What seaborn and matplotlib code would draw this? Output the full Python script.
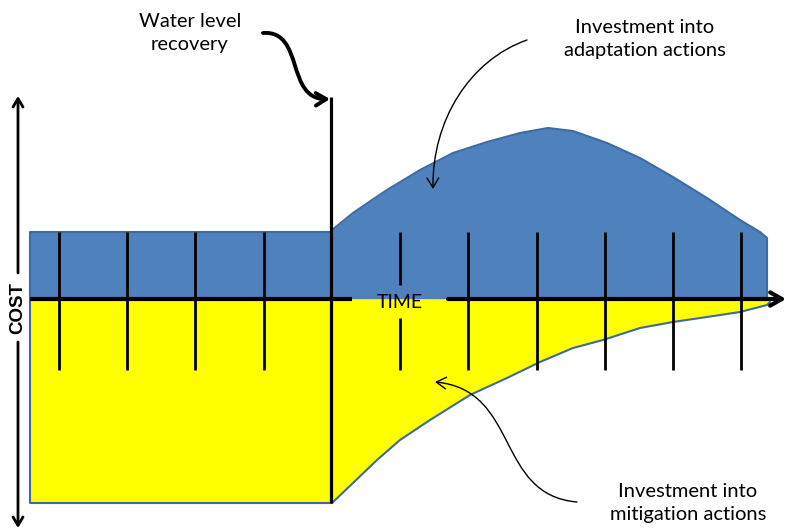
import numpy as np
import pandas as pd
import matplotlib
matplotlib.use("Agg")
import matplotlib.pyplot as plt
from matplotlib.patches import FancyArrowPatch
from matplotlib.path import Path
import seaborn as sns

# ---- data (diagram units: x = time, y = cost, drawn on a pixel-like scale) ----
baseline_y = 299                       # time axis level
start_x = 30                           # start of time
recovery_x = 331                       # water level recovery
end_x = 767                            # end of areas

pre_adapt_y = 232                      # adaptation cost level before recovery
pre_mitig_y = 503                      # mitigation cost level before recovery

adapt_x = [332, 353, 372, 387, 420, 453, 487, 520, 548, 573, 607, 640, 673, 707, 740, 760, 767]
adapt_y = [230, 213, 200, 190, 170, 153, 142, 133, 128, 131, 143, 158, 177, 198, 220, 232, 238]

mitig_x = [332, 353, 377, 400, 430, 470, 507, 540, 573, 603, 640, 673, 707, 740, 767, 770]
mitig_y = [503, 483, 460, 440, 420, 395, 378, 362, 348, 340, 328, 322, 317, 312, 305, 302]

tick_x = [59, 127, 195, 264, 400, 468, 537, 605, 673, 741]
tick_top, tick_bottom = 232, 370

labels = {
    "recovery": "Water level\nrecovery",
    "adapt": "Investment into\nadaptation actions",
    "mitig": "Investment into\nmitigation actions",
    "time": "TIME",
    "cost": "COST",
}

# ---- plotting ----
sns.set_theme(style="white")
plt.rcParams["font.family"] = ["Lato", "DejaVu Sans"]

fig = plt.figure(figsize=(7.89, 5.31), dpi=100)
ax = fig.add_axes([0, 0, 1, 1])
ax.set_xlim(0, 789)
ax.set_ylim(531, 0)
ax.axis("off")

blue = "#4f81bd"
blue_edge = "#3d6aa3"
yellow = "#ffff00"

# adaptation (blue) area
ax_x = [start_x, recovery_x] + adapt_x + [end_x]
ax_y = [pre_adapt_y, pre_adapt_y] + adapt_y + [baseline_y]
ax.fill_between(ax_x, ax_y, baseline_y, color=blue, lw=0, zorder=1)
outline_a = pd.DataFrame({"x": [start_x, start_x] + ax_x, "y": [baseline_y, pre_adapt_y] + ax_y})
sns.lineplot(data=outline_a, x="x", y="y", sort=False, estimator=None, ax=ax,
             color=blue_edge, lw=1.5, zorder=2)

# mitigation (yellow) area
mx = [start_x, recovery_x] + mitig_x
my = [pre_mitig_y, pre_mitig_y] + mitig_y
ax.fill_between(mx, baseline_y, my, color=yellow, lw=0, zorder=1)
outline_m = pd.DataFrame({"x": [start_x, start_x] + mx, "y": [baseline_y, pre_mitig_y] + my})
sns.lineplot(data=outline_m, x="x", y="y", sort=False, estimator=None, ax=ax,
             color=blue_edge, lw=1.5, zorder=2)

# tick marks on time axis
for tx in tick_x:
    if tx == 400:
        ax.plot([tx, tx], [tick_top, 285], color="black", lw=2, zorder=4, solid_capstyle="butt")
        ax.plot([tx, tx], [318, tick_bottom], color="black", lw=2, zorder=4, solid_capstyle="butt")
    else:
        ax.plot([tx, tx], [tick_top, tick_bottom], color="black", lw=2, zorder=4, solid_capstyle="butt")

# recovery line
ax.plot([recovery_x, recovery_x], [97, pre_mitig_y], color="black", lw=2.3, zorder=4,
        solid_capstyle="butt")

# time axis with gap around label
ax.plot([start_x, 352], [baseline_y, baseline_y], color="black", lw=3, zorder=5,
        solid_capstyle="butt")
ax.annotate("", xy=(786, baseline_y), xytext=(448, baseline_y), zorder=5,
            arrowprops=dict(arrowstyle="->,head_length=0.7,head_width=0.4", lw=3,
                            color="black", shrinkA=0, shrinkB=0))
ax.text(400, 302, labels["time"], ha="center", va="center", fontsize=14, color="black",
        zorder=6)

# cost axis (double arrow with gap)
ax.annotate("", xy=(18, 96), xytext=(18, 273),
            arrowprops=dict(arrowstyle="->,head_length=0.5,head_width=0.3", lw=2,
                            color="black", shrinkA=0, shrinkB=0))
ax.annotate("", xy=(18, 528), xytext=(18, 342),
            arrowprops=dict(arrowstyle="->,head_length=0.5,head_width=0.3", lw=2,
                            color="black", shrinkA=0, shrinkB=0))
ax.text(18, 308, labels["cost"], rotation=90, ha="center", va="center",
        fontsize=13.5, fontweight="bold", color="black",
        family=["Liberation Sans", "DejaVu Sans"])

# annotation texts
ax.text(190, 33, labels["recovery"], ha="center", va="center", fontsize=14.5,
        linespacing=1.45, color="black")
ax.text(645, 39, labels["adapt"], ha="center", va="center", fontsize=14.5,
        linespacing=1.45, color="black")
ax.text(688, 503, labels["mitig"], ha="center", va="center", fontsize=14.5,
        linespacing=1.45, color="black")

# curved arrows
def bez(p, **kw):
    path = Path(p, [Path.MOVETO, Path.CURVE4, Path.CURVE4, Path.CURVE4])
    arr = FancyArrowPatch(path=path, **kw)
    ax.add_patch(arr)

bez([(263, 33), (305, 30), (285, 100), (330, 99)],
    arrowstyle="->,head_length=0.5,head_width=0.3", mutation_scale=15,
    lw=2.8, color="black", zorder=6)
bez([(527, 40), (470, 60), (432, 120), (433, 189)],
    arrowstyle="->,head_length=0.5,head_width=0.3", mutation_scale=14,
    lw=1, color="black", zorder=6)
bez([(577, 502), (495, 495), (520, 390), (435, 382)],
    arrowstyle="->,head_length=0.5,head_width=0.3", mutation_scale=14,
    lw=1, color="black", zorder=6)

fig.savefig("out.png", dpi=100)
